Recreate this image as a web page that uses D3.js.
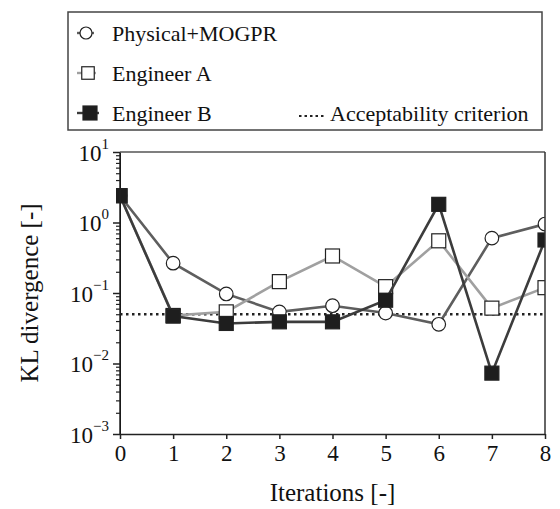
<!DOCTYPE html>
<html>
<head>
<meta charset="utf-8">
<script src="https://cdn.jsdelivr.net/npm/d3@7"></script>
<style>
  html, body { margin: 0; padding: 0; background: #fff; }
  svg { display: block; }
  text { font-family: "Liberation Serif", "Times New Roman", serif; fill: #111; }
</style>
</head>
<body>
<svg id="chart" width="560" height="509"></svg>
<script>
// Iteration index on the x axis
const iterations = [0, 1, 2, 3, 4, 5, 6, 7, 8];

// KL divergence per iteration for each approach
const physicalMogpr = [2.4, 0.265, 0.097, 0.054, 0.066, 0.052, 0.036, 0.60, 0.95];
const engineerA     = [2.4, 0.048, 0.054, 0.145, 0.335, 0.123, 0.55, 0.061, 0.119];
const engineerB     = [2.4, 0.047, 0.037, 0.039, 0.039, 0.079, 1.81, 0.0073, 0.565];

// Acceptability threshold
const criterion = 0.05;

const seriesNames = ["Physical+MOGPR", "Engineer A", "Engineer B"];
const yMajorTicks = [1e-3, 1e-2, 1e-1, 1e0, 1e1];
const yExponents = ["\u22123", "\u22122", "\u22121", "0", "1"];
const xTickLabels = ["0", "1", "2", "3", "4", "5", "6", "7", "8"];

const svg = d3.select("#chart");

const plot = { left: 120, right: 545, top: 152, bottom: 434 };

const x = d3.scaleLinear().domain([0, 8]).range([plot.left, plot.right]);
const y = d3.scaleLog().domain([1e-3, 1e1]).range([plot.bottom, plot.top]);

// data marks are clipped to the plotting area (small allowance on the left)
svg.append("defs").append("clipPath").attr("id", "plot-clip")
  .append("rect")
  .attr("x", plot.left - 4).attr("y", plot.top)
  .attr("width", plot.right - plot.left + 4).attr("height", plot.bottom - plot.top);

// minor ticks 2..9 within each decade
const yMinorTicks = [];
for (let e = -3; e < 1; e++) {
  for (let m = 2; m <= 9; m++) yMinorTicks.push(m * Math.pow(10, e));
}

const axisColor = "#222";

// y axis: minor ticks
const yMinor = svg.append("g")
  .attr("transform", `translate(${plot.left},0)`)
  .call(d3.axisLeft(y).tickValues(yMinorTicks).tickSize(4).tickFormat(""));
yMinor.select(".domain").remove();
yMinor.selectAll("line").attr("stroke", axisColor).attr("stroke-width", 1.2);

// y axis: decades with superscript labels
const yMajor = svg.append("g")
  .attr("transform", `translate(${plot.left},0)`)
  .call(d3.axisLeft(y).tickValues(yMajorTicks).tickSize(7).tickSizeOuter(0).tickPadding(4)
    .tickFormat(() => ""));
yMajor.selectAll("line").attr("stroke", axisColor).attr("stroke-width", 1.5);
yMajor.selectAll(".tick text").each(function(d, i) {
  const t = d3.select(this)
    .attr("font-family", "Liberation Serif")
    .attr("font-size", 23)
    .attr("fill", "#111")
    .attr("dy", "0.36em");
  t.text("");
  t.append("tspan").text("10");
  t.append("tspan").attr("font-size", 15).attr("dy", "-0.8em").text(yExponents[i]);
});

// x axis
const xAxis = svg.append("g")
  .attr("transform", `translate(0,${plot.bottom})`)
  .call(d3.axisBottom(x).tickValues(iterations).tickSize(5).tickSizeOuter(0).tickPadding(6)
    .tickFormat((d, i) => xTickLabels[i]));
xAxis.select(".domain").attr("stroke", axisColor).attr("stroke-width", 1.5);
xAxis.selectAll("line").attr("stroke", axisColor).attr("stroke-width", 1.5);
xAxis.selectAll("text")
  .attr("font-family", "Liberation Serif")
  .attr("font-size", 23)
  .attr("fill", "#111");

// axis titles
svg.append("text")
  .attr("x", (plot.left + plot.right) / 2)
  .attr("y", 501)
  .attr("text-anchor", "middle")
  .attr("font-size", 25)
  .text("Iterations [-]");

svg.append("text")
  .attr("transform", `translate(38,${(plot.top + plot.bottom) / 2}) rotate(-90)`)
  .attr("text-anchor", "middle")
  .attr("font-size", 25)
  .text("KL divergence [-]");

const marks = svg.append("g").attr("clip-path", "url(#plot-clip)");

// acceptability criterion
marks.append("line")
  .attr("x1", plot.left).attr("x2", plot.right)
  .attr("y1", y(criterion)).attr("y2", y(criterion))
  .attr("stroke", "#222").attr("stroke-width", 2.4)
  .attr("stroke-dasharray", "2.5,3.5");

const series = [
  { name: seriesNames[0], values: physicalMogpr, line: "#5e5e5e", shape: "circle", fill: "#fff" },
  { name: seriesNames[1], values: engineerA, line: "#a0a0a0", shape: "square", fill: "#fff" },
  { name: seriesNames[2], values: engineerB, line: "#3c3c3c", shape: "square", fill: "#1e1e1e" }
];

const lineGen = d3.line()
  .x((d, i) => x(iterations[i]))
  .y(d => y(d));

function drawMarker(g, shape, fill, cx, cy, size) {
  if (shape === "circle") {
    g.append("circle").attr("cx", cx).attr("cy", cy).attr("r", size / 2)
      .attr("fill", fill).attr("stroke", "#222").attr("stroke-width", 1.2);
  } else {
    g.append("rect").attr("x", cx - size / 2).attr("y", cy - size / 2)
      .attr("width", size).attr("height", size)
      .attr("fill", fill).attr("stroke", "#222").attr("stroke-width", 1.2);
  }
}

series.forEach(s => {
  const g = marks.append("g");
  g.append("path")
    .datum(s.values)
    .attr("d", lineGen)
    .attr("fill", "none")
    .attr("stroke", s.line)
    .attr("stroke-width", 2.6);
  s.values.forEach((v, i) => drawMarker(g, s.shape, s.fill, x(iterations[i]), y(v), s.shape === "circle" ? 13.6 : 14));
});

// frame: left axis line, top and right edges
svg.append("line")
  .attr("x1", plot.left).attr("x2", plot.left)
  .attr("y1", plot.top).attr("y2", plot.bottom)
  .attr("stroke", axisColor).attr("stroke-width", 1.5);
svg.append("line")
  .attr("x1", plot.left).attr("x2", plot.right)
  .attr("y1", plot.top).attr("y2", plot.top)
  .attr("stroke", "#555").attr("stroke-width", 1.5);
svg.append("line")
  .attr("x1", plot.right).attr("x2", plot.right)
  .attr("y1", plot.top).attr("y2", plot.bottom)
  .attr("stroke", "#333").attr("stroke-width", 1.5);

// legend
const legend = svg.append("g");
legend.append("rect")
  .attr("x", 68).attr("y", 12).attr("width", 474).attr("height", 118)
  .attr("fill", "#fff").attr("stroke", "#444").attr("stroke-width", 1.5);

const rowsY = [33, 73, 113];
const legendMarker = [
  { cx: 86, size: 12, x2: 94 },
  { cx: 88, size: 12.5, x2: 96 },
  { cx: 90, size: 14, x2: 99 }
];
series.forEach((s, i) => {
  const cy = rowsY[i];
  const m = legendMarker[i];
  legend.append("line")
    .attr("x1", 77).attr("x2", m.x2).attr("y1", cy).attr("y2", cy)
    .attr("stroke", s.line).attr("stroke-width", 2.4);
  drawMarker(legend, s.shape, s.fill, m.cx, cy, m.size);
  legend.append("text")
    .attr("x", 112).attr("y", cy).attr("dy", "0.35em")
    .attr("font-size", 22)
    .text(s.name);
});

legend.append("line")
  .attr("x1", 299).attr("x2", 326).attr("y1", rowsY[2] + 3).attr("y2", rowsY[2] + 3)
  .attr("stroke", "#222").attr("stroke-width", 2.2)
  .attr("stroke-dasharray", "2.5,3");
legend.append("text")
  .attr("x", 330).attr("y", rowsY[2]).attr("dy", "0.35em")
  .attr("font-size", 22)
  .text("Acceptability criterion");
</script>
</body>
</html>
